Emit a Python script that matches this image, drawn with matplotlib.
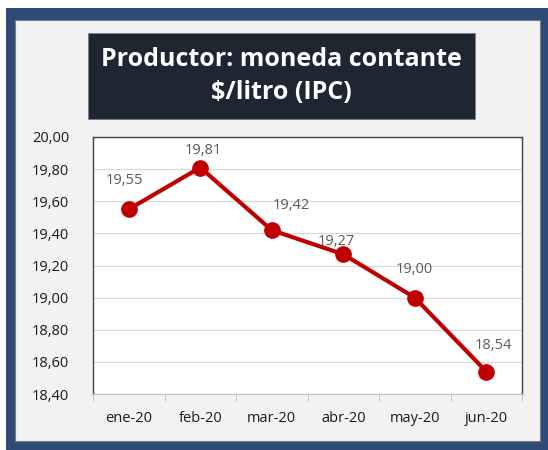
import matplotlib
matplotlib.use("Agg")
import matplotlib.pyplot as plt
from matplotlib.patches import Rectangle
import numpy as np

meses = ['ene-20', 'feb-20', 'mar-20', 'abr-20', 'may-20', 'jun-20']
precio = [19.55, 19.81, 19.42, 19.27, 19.00, 18.54]
etiquetas = ['19,55', '19,81', '19,42', '19,27', '19,00', '18,54']
yticks = [18.4, 18.6, 18.8, 19.0, 19.2, 19.4, 19.6, 19.8, 20.0]

plt.rcParams['font.family'] = ['Open Sans', 'DejaVu Sans']

W, H = 548, 450
fig = plt.figure(figsize=(W / 100, H / 100), dpi=100)
fig.patch.set_facecolor('white')

# marco azul y panel gris
fig.patches.append(Rectangle((6 / W, 0), 542 / W, 442 / H, transform=fig.transFigure,
                             facecolor='#2F4B78', edgecolor='none', zorder=0))
fig.patches.append(Rectangle((15 / W, 9 / H), 525 / W, 421 / H, transform=fig.transFigure,
                             facecolor='#F2F2F2', edgecolor='#7F7F7F', linewidth=0.8, zorder=1))
# caja del titulo
fig.patches.append(Rectangle((88 / W, 1 - 119 / H), 387 / W, 86 / H, transform=fig.transFigure,
                             facecolor='#1E2632', edgecolor='#7F7F7F', linewidth=0.6, zorder=2))
fig.text(281 / W, 1 - 76 / H, 'Productor: moneda contante\n$/litro (IPC)', color='white',
         fontsize=18, fontweight='bold', ha='center', va='center', linespacing=1.45, zorder=3)

ax = fig.add_axes([93 / W, 1 - 394 / H, 429 / W, 257 / H])
ax.set_zorder(5)
ax.set_facecolor('white')
x = np.arange(len(meses))
ax.plot(x, precio, color='#C00000', linewidth=3, marker='o', markersize=11, zorder=3,
        clip_on=False)

offs = [(-3, 15), (2, 7), (14, 12), (-5, 4), (0, 15), (5, 13)]
for xi, yi, t, o in zip(x, precio, etiquetas, offs):
    ax.annotate(t, (xi, yi), xytext=o, textcoords='offset points', ha='center', va='bottom',
                fontsize=10.5, color='#595959')

ax.set_xlim(-0.5, len(meses) - 0.5)
ax.set_ylim(18.4, 20.0)
ax.set_yticks(yticks)
ax.set_yticklabels([f'{v:.2f}'.replace('.', ',') for v in yticks])
ax.set_xticks(x)
ax.set_xticklabels(meses)
ax.set_xticks(np.arange(-0.5, len(meses), 1), minor=True)
ax.tick_params(axis='x', which='major', length=0, pad=12, labelsize=10.5, labelcolor='#1A1A1A')
ax.tick_params(axis='x', which='minor', length=5, color='#BFBFBF')
ax.tick_params(axis='y', length=0, pad=17, labelsize=10.5, labelcolor='#1A1A1A')
ax.grid(axis='y', color='#D9D9D9', linewidth=0.9)
ax.set_axisbelow(True)
for s in ['left', 'top', 'right']:
    ax.spines[s].set_color('#404040')
    ax.spines[s].set_linewidth(1.0)
ax.spines['bottom'].set_color('#BFBFBF')

plt.savefig('out.png', dpi=100)
